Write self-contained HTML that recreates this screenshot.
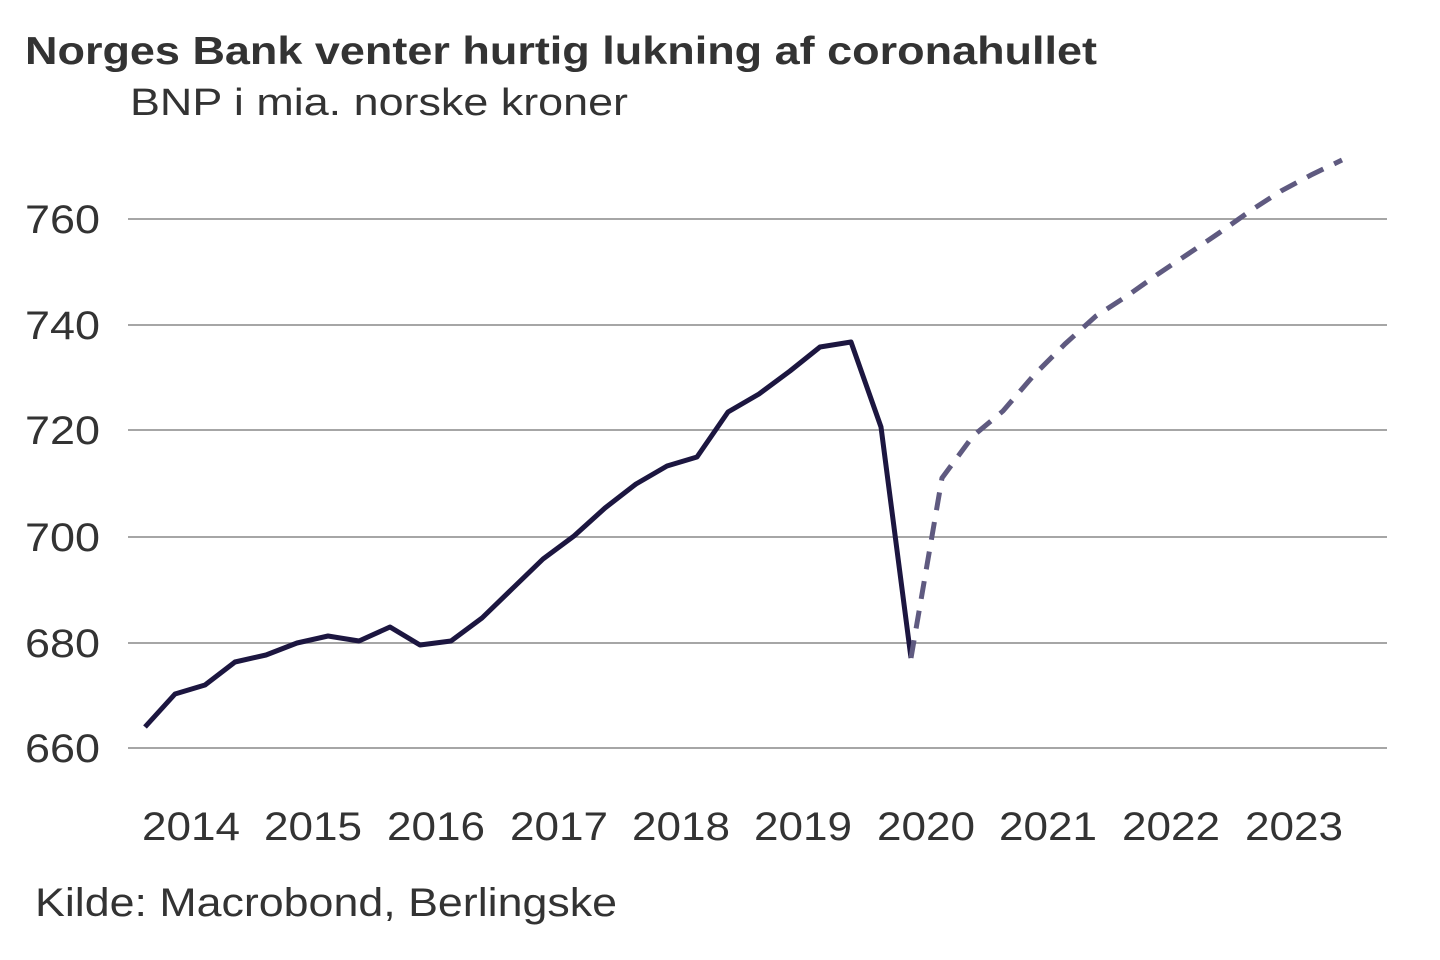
<!DOCTYPE html>
<html><head><meta charset="utf-8"><style>
html,body{margin:0;padding:0;background:#fff;}
svg{display:block;}
text{font-family:"Liberation Sans",Arial,sans-serif;fill:#333;}
</style></head><body>
<svg width="1440" height="960" viewBox="0 0 1440 960" xmlns="http://www.w3.org/2000/svg">
<text x="25" y="64" font-size="39" font-weight="bold" textLength="1072" lengthAdjust="spacingAndGlyphs">Norges Bank venter hurtig lukning af coronahullet</text>
<text x="130" y="115" font-size="38" textLength="498" lengthAdjust="spacingAndGlyphs">BNP i mia. norske kroner</text>
<g stroke="#888" stroke-width="1.5">
<line x1="128" y1="219" x2="1387" y2="219"/>
<line x1="128" y1="325" x2="1387" y2="325"/>
<line x1="128" y1="430" x2="1387" y2="430"/>
<line x1="128" y1="537" x2="1387" y2="537"/>
<line x1="128" y1="643" x2="1387" y2="643"/>
<line x1="128" y1="748" x2="1387" y2="748"/>
</g>
<g font-size="40">
<text x="25" y="233" textLength="75" lengthAdjust="spacingAndGlyphs">760</text>
<text x="25" y="339" textLength="75" lengthAdjust="spacingAndGlyphs">740</text>
<text x="25" y="444" textLength="75" lengthAdjust="spacingAndGlyphs">720</text>
<text x="25" y="551" textLength="75" lengthAdjust="spacingAndGlyphs">700</text>
<text x="25" y="657" textLength="75" lengthAdjust="spacingAndGlyphs">680</text>
<text x="25" y="762" textLength="75" lengthAdjust="spacingAndGlyphs">660</text>
</g>
<g font-size="40">
<text x="142" y="840" textLength="98" lengthAdjust="spacingAndGlyphs">2014</text>
<text x="264" y="840" textLength="98" lengthAdjust="spacingAndGlyphs">2015</text>
<text x="387" y="840" textLength="98" lengthAdjust="spacingAndGlyphs">2016</text>
<text x="510" y="840" textLength="98" lengthAdjust="spacingAndGlyphs">2017</text>
<text x="632" y="840" textLength="98" lengthAdjust="spacingAndGlyphs">2018</text>
<text x="754" y="840" textLength="98" lengthAdjust="spacingAndGlyphs">2019</text>
<text x="877" y="840" textLength="98" lengthAdjust="spacingAndGlyphs">2020</text>
<text x="999" y="840" textLength="98" lengthAdjust="spacingAndGlyphs">2021</text>
<text x="1122" y="840" textLength="98" lengthAdjust="spacingAndGlyphs">2022</text>
<text x="1245" y="840" textLength="98" lengthAdjust="spacingAndGlyphs">2023</text>
</g>
<polyline fill="none" stroke="#1c1640" stroke-width="5" stroke-linejoin="round" points="145,727 175,694 205,685 235,662 266,655 297,643 328,636 359,641 390,627 420,645 451,641 482,618 513,588 543,559 574,536 605,508 636,484 667,466 697,457 728,412 759,394 790,371 820,347 851,342 881,427 911,658"/>
<polyline fill="none" stroke="#5f5a80" stroke-width="5" stroke-dasharray="18,12" points="911,658 942,478 973,436 1003,411 1034,375 1065,344 1096,316 1127,296 1158,274 1188,254 1219,233 1250,211 1281,191 1311,175 1342,160"/>
<text x="35" y="916" font-size="40" textLength="582" lengthAdjust="spacingAndGlyphs">Kilde: Macrobond, Berlingske</text>
</svg>
</body></html>
